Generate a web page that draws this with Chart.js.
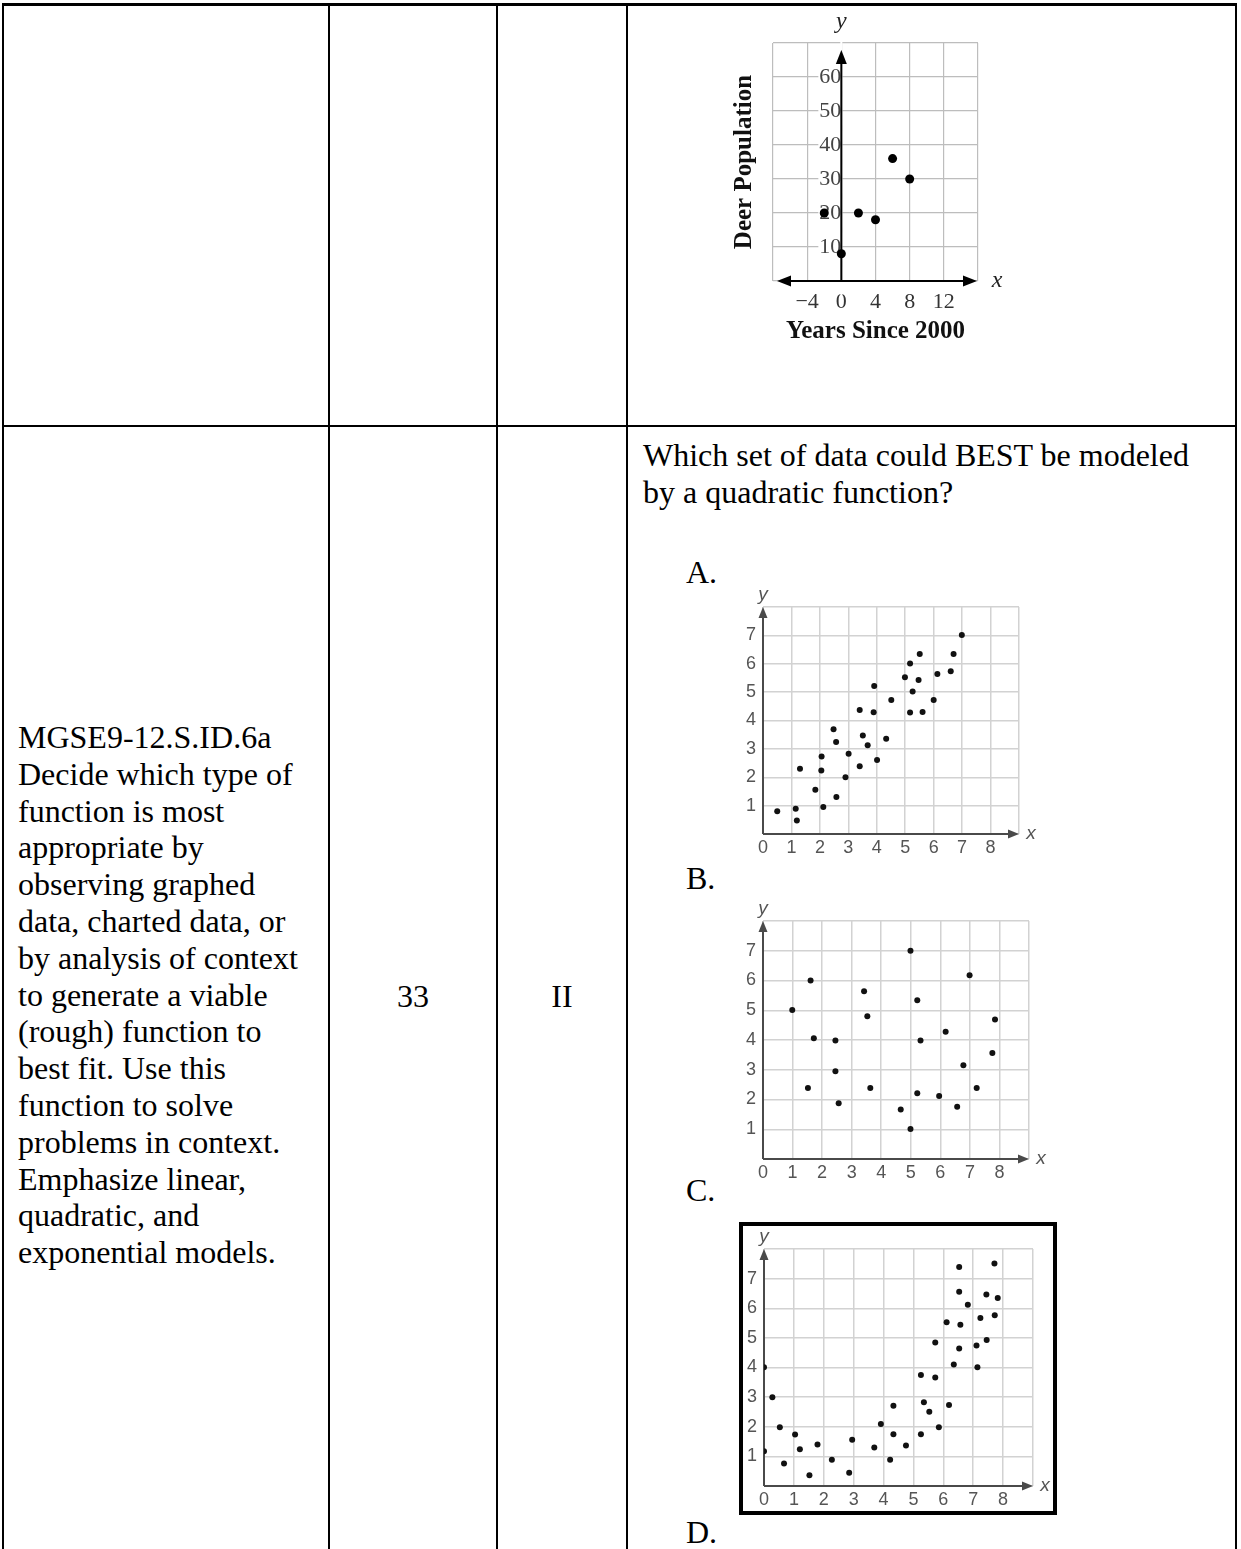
<!DOCTYPE html>
<html lang="en">
<head>
<meta charset="UTF-8">
<title>Which set of data could BEST be modeled by a quadratic function?</title>
<script src="https://cdn.jsdelivr.net/npm/chart.js"></script>
<style>
  body {
    margin: 0;
    width: 1241px;
    height: 1549px;
    position: relative;
    overflow: hidden;
    background: #fff;
    font-family: "Liberation Serif", "Times New Roman", serif;
    color: #000;
  }
  .rule { position: absolute; background: #000; }
  .txt { position: absolute; font-size: 32px; line-height: 36.8px; white-space: nowrap; }
  .framed { position: absolute; border: 4px solid #000; box-sizing: border-box; }
  canvas { position: absolute; }
</style>
</head>
<body>
  <!-- table rules -->
  <div class="rule" style="left:2px;top:3px;width:1235px;height:3px"></div>
  <div class="rule" style="left:2px;top:3px;width:2px;height:1546px"></div>
  <div class="rule" style="left:328px;top:3px;width:2px;height:1546px"></div>
  <div class="rule" style="left:496px;top:3px;width:2px;height:1546px"></div>
  <div class="rule" style="left:626px;top:3px;width:2px;height:1546px"></div>
  <div class="rule" style="left:1235px;top:3px;width:2px;height:1546px"></div>
  <div class="rule" style="left:2px;top:425px;width:1235px;height:2px"></div>

  <div class="txt" style="left:18px;top:719px">MGSE9-12.S.ID.6a<br>Decide which type of<br>function is most<br>appropriate by<br>observing graphed<br>data, charted data, or<br>by analysis of context<br>to generate a viable<br>(rough) function to<br>best fit. Use this<br>function to solve<br>problems in context.<br>Emphasize linear,<br>quadratic, and<br>exponential models.</div>
  <div class="txt" style="left:330px;width:166px;text-align:center;top:978px">33</div>
  <div class="txt" style="left:498px;width:128px;text-align:center;top:978px">II</div>

  <div class="txt" style="left:643px;top:437px">Which set of data could BEST be modeled<br>by a quadratic function?</div>
  <div class="txt" style="left:686px;top:554px">A.</div>
  <div class="txt" style="left:686px;top:860px">B.</div>
  <div class="txt" style="left:686px;top:1172px">C.</div>
  <div class="txt" style="left:686px;top:1514px">D.</div>

  <div class="framed" style="left:739px;top:1222px;width:318px;height:293px"></div>

  <canvas id="deer"></canvas>
  <canvas id="setA"></canvas>
  <canvas id="setB"></canvas>
  <canvas id="setC"></canvas>

<script>
// deer population graph
const deerYears = [-2, 0, 2, 4, 6, 8];
const deerCount = [20, 8, 20, 18, 36, 30];
const deerXLabels = [-4, 0, 4, 8, 12];
const deerYLabels = [10, 20, 30, 40, 50, 60];

// answer choices A, B, C
const setAX = [0.5, 1.15, 1.19, 1.3, 1.84, 2.12, 2.06, 2.05, 2.48, 2.57, 2.58, 2.9, 3.01, 3.4, 3.4, 3.51, 3.68,
               3.89, 3.91, 4.01, 4.33, 4.51, 4.99, 5.17, 5.17, 5.26, 5.47, 5.51, 5.61, 6.0, 6.13, 6.6, 6.7, 6.99];
const setAY = [0.8, 0.89, 0.48, 2.3, 1.56, 0.95, 2.73, 2.24, 3.69, 3.24, 1.3, 2.0, 2.83, 4.37, 2.39, 3.47, 3.13,
               4.29, 5.22, 2.61, 3.36, 4.72, 5.52, 6.01, 4.28, 5.02, 5.43, 6.34, 4.3, 4.72, 5.64, 5.74, 6.34, 7.01];

const setBX = [0.99, 1.61, 1.72, 1.52, 2.45, 2.45, 2.56, 3.42, 3.53, 3.63, 4.66, 4.99, 4.99, 5.22, 5.33, 5.22,
               5.96, 6.18, 6.57, 6.78, 6.99, 7.23, 7.76, 7.85];
const setBY = [5.01, 6.0, 4.06, 2.39, 3.98, 2.95, 1.87, 5.64, 4.8, 2.39, 1.66, 7.0, 1.01, 5.34, 3.98, 2.21,
               2.12, 4.28, 1.76, 3.15, 6.18, 2.39, 3.56, 4.69];

const setCX = [0, 0, 0.28, 0.53, 0.67, 1.04, 1.2, 1.52, 1.79, 2.27, 2.85, 2.95, 3.69, 3.91, 4.22, 4.33, 4.33,
               4.75, 5.25, 5.25, 5.35, 5.53, 5.73, 5.73, 5.85, 6.11, 6.19, 6.35, 6.53, 6.53, 6.57, 6.53, 6.82,
               7.11, 7.14, 7.24, 7.44, 7.45, 7.71, 7.72, 7.82];
const setCY = [4.01, 1.17, 3.0, 1.98, 0.76, 1.74, 1.24, 0.36, 1.4, 0.89, 0.45, 1.56, 1.3, 2.09, 0.89, 2.71, 1.75,
               1.37, 3.75, 1.75, 2.83, 2.51, 4.84, 3.66, 1.98, 5.53, 2.73, 4.1, 7.39, 6.56, 5.44, 4.64, 6.12,
               4.74, 4.01, 5.67, 6.46, 4.93, 7.51, 5.76, 6.35];

const gridXLabels = [0, 1, 2, 3, 4, 5, 6, 7, 8];
const gridYLabels = [1, 2, 3, 4, 5, 6, 7];

// axis lines with arrow heads, plus the x / y letters
function arrowHead(ctx, tx, ty, dx, dy, len, half) {
  ctx.beginPath();
  ctx.moveTo(tx, ty);
  ctx.lineTo(tx - dx * len - dy * half, ty - dy * len + dx * half);
  ctx.lineTo(tx - dx * len + dy * half, ty - dy * len - dx * half);
  ctx.closePath();
  ctx.fill();
}

const axisArrows = {
  id: 'axisArrows',
  beforeDatasetsDraw(chart, args, o) {
    const {ctx, chartArea: a, scales: {x, y}} = chart;
    const x0 = x.getPixelForValue(0), y0 = y.getPixelForValue(0);
    const left = o.both ? a.left + o.leftInset : x0;
    const right = a.right - o.rightInset;
    const top = a.top + o.topInset;
    ctx.save();
    ctx.strokeStyle = o.color;
    ctx.fillStyle = o.color;
    ctx.lineWidth = o.width;
    ctx.beginPath();
    ctx.moveTo(o.both ? left + o.head - 2 : left, y0);
    ctx.lineTo(right - o.head + 2, y0);
    ctx.moveTo(x0, y0);
    ctx.lineTo(x0, top + o.head - 2);
    ctx.stroke();
    arrowHead(ctx, right, y0, 1, 0, o.head, o.half);
    arrowHead(ctx, x0, top, 0, -1, o.head, o.half);
    if (o.both) arrowHead(ctx, left, y0, -1, 0, o.head, o.half);

    ctx.fillStyle = o.letterColor;
    ctx.font = o.letterFont;
    ctx.textAlign = 'center';
    ctx.textBaseline = 'middle';
    ctx.fillText('x', a.right + o.xGap, y0);
    ctx.fillText('y', x0, a.top - o.yGap);
    if (o.sideTitle) {
      ctx.fillStyle = '#111';
      ctx.font = 'bold 25px "Liberation Serif"';
      ctx.translate(a.left - o.sideGap, (a.top + a.bottom) / 2);
      ctx.rotate(-Math.PI / 2);
      ctx.fillText(o.sideTitle, 0, 0);
    }
    ctx.restore();
  }
};
Chart.register(axisArrows);

function place(id, area, pad, yw, xh) {
  const c = document.getElementById(id);
  const left = area.l - pad.left - yw;
  const top = area.t - pad.top;
  c.width = area.r + pad.right - left;
  c.height = area.b + xh - top;
  c.style.left = left + 'px';
  c.style.top = top + 'px';
  return c;
}

function pairs(xs, ys) {
  return xs.map((v, i) => ({x: v, y: ys[i]}));
}

const sans = {family: '"Liberation Sans", Arial, sans-serif', size: 18};

function choiceChart(id, xs, ys, area) {
  const pad = {left: 0, top: 24, right: 28, bottom: 0};
  const canvas = place(id, area, pad, 30, 28);
  return new Chart(canvas, {
    type: 'scatter',
    data: {datasets: [{data: pairs(xs, ys), backgroundColor: '#111', borderWidth: 0,
                       pointRadius: 3, pointHoverRadius: 3}]},
    options: {
      responsive: false, animation: false, events: [],
      layout: {autoPadding: false, padding: pad},
      plugins: {
        legend: {display: false}, tooltip: {enabled: false},
        axisArrows: {color: '#4a4a4a', width: 2, head: 11, half: 4.5, both: false,
                     leftInset: 0, rightInset: 0, topInset: 0,
                     letterColor: '#555', letterFont: 'italic 19px "Liberation Sans"', xGap: 12, yGap: 12}
      },
      scales: {
        x: {
          type: 'linear', min: 0, max: 9,
          afterFit: s => { s.height = 28; },
          grid: {color: '#d2d2d2', lineWidth: 1.5, drawTicks: false},
          border: {display: false},
          ticks: {stepSize: 1, autoSkip: false, maxRotation: 0, padding: 3, color: '#555', font: sans,
                  callback: v => gridXLabels.includes(v) ? String(v) : ''}
        },
        y: {
          type: 'linear', min: 0, max: 8,
          afterFit: s => { s.width = 30; },
          grid: {color: '#d2d2d2', lineWidth: 1.5, drawTicks: false},
          border: {display: false},
          ticks: {stepSize: 1, autoSkip: false, padding: 7, color: '#555', font: sans,
                  callback: v => gridYLabels.includes(v) ? String(v) : ''}
        }
      }
    }
  });
}

// deer chart
(function () {
  const area = {l: 773, t: 43, r: 978, b: 281};
  const pad = {left: 40, top: 35, right: 35, bottom: 0};
  const canvas = place('deer', area, pad, 0, 66);
  const serif = {family: '"Liberation Serif", "Times New Roman", serif', size: 22};
  new Chart(canvas, {
    type: 'scatter',
    data: {datasets: [{data: pairs(deerYears, deerCount), backgroundColor: '#000', borderWidth: 0,
                       pointRadius: 4.5, pointHoverRadius: 4.5}]},
    options: {
      responsive: false, animation: false, events: [],
      layout: {autoPadding: false, padding: pad},
      plugins: {
        legend: {display: false}, tooltip: {enabled: false},
        axisArrows: {color: '#000', width: 2, head: 14, half: 5.5, both: true,
                     leftInset: 4, rightInset: 1, topInset: 7,
                     letterColor: '#222', letterFont: 'italic 24px "Liberation Serif"', xGap: 19, yGap: 21,
                     sideTitle: 'Deer Population', sideGap: 28}
      },
      scales: {
        x: {
          type: 'linear', min: -8, max: 16,
          afterFit: s => { s.height = 66; },
          grid: {color: '#bdbdbd', lineWidth: 1.2, drawTicks: false},
          border: {display: false},
          ticks: {stepSize: 4, autoSkip: false, maxRotation: 0, padding: 8, color: '#333', font: serif,
                  callback: v => deerXLabels.includes(v) ? (v < 0 ? '\u2212' + Math.abs(v) : String(v)) : ''},
          title: {display: true, text: 'Years Since 2000', color: '#111', padding: 0,
                  font: {family: '"Liberation Serif", serif', size: 25, weight: 'bold', lineHeight: 1.2}}
        },
        y: {
          type: 'linear', min: 0, max: 70, position: {x: 0},
          grid: {color: '#bdbdbd', lineWidth: 1.2, drawTicks: false},
          border: {display: false},
          ticks: {stepSize: 10, autoSkip: false, padding: 3, color: '#444', font: serif,
                  showLabelBackdrop: true, backdropColor: '#fff', backdropPadding: 1,
                  callback: v => deerYLabels.includes(v) ? String(v) : ''}
        }
      }
    }
  });
})();

choiceChart('setA', setAX, setAY, {l: 763, t: 607, r: 1019, b: 834});
choiceChart('setB', setBX, setBY, {l: 763, t: 921, r: 1029, b: 1159});
choiceChart('setC', setCX, setCY, {l: 764, t: 1249, r: 1033, b: 1486});
</script>
</body>
</html>
